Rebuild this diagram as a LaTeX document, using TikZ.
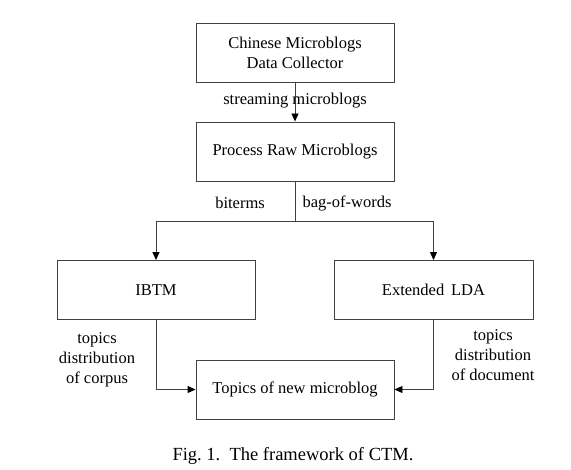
\documentclass[tikz,border=0pt]{standalone}
\usepackage{fontspec}
\setmainfont{Liberation Serif}
\usetikzlibrary{arrows.meta}
\begin{document}
\begin{tikzpicture}[x=1pt,y=-1pt,
  box/.style={draw=black!75,line width=0.9pt,minimum width=198pt,minimum height=59pt,align=center,inner sep=0pt,font=\fontsize{16.5}{20}\selectfont},
  lab/.style={align=center,inner sep=0pt,font=\fontsize{16.5}{20}\selectfont},
  conn/.style={draw=black!75,line width=0.9pt},
  arr/.style={conn,-{Triangle[length=8pt,width=7pt,color=black]}}]
\useasboundingbox (0,0) rectangle (571,470);
\node[box] (coll) at (295,52.5) {Chinese Microblogs\\Data Collector};
\node[box] (proc) at (295,151.5) {Process Raw Microblogs};
\node[box] (ibtm) at (156,290) {IBTM};
\node[box,minimum width=199pt] (lda) at (433.5,290) {Extended\, LDA};
\node[box] (new) at (295,389.5) {Topics of new microblog};
\coordinate (split) at (295,221);
\coordinate (rc) at (433,389);
\draw[arr] (coll) -- (proc);
\draw[conn] (proc) -- (split);
\draw[arr] (split) -| (ibtm);
\draw[arr] (split) -| (lda);
\draw[arr] (ibtm) |- (new.west);
\draw[arr] (lda.south -| rc) |- (new.east);
\node[lab] (l1) at (295,101) {streaming microblogs};
\node[lab] (l2) at (240,203) {biterms};
\node[lab] (l3) at (347,203) {bag-of-words};
\node[lab] (l4) at (97,360) {topics\\distribution\\of corpus};
\node[lab] (l5) at (493,355) {topics\\distribution\\of document};
\node[lab,font=\fontsize{18.5}{22}\selectfont] (cap) at (293,456) {Fig.~1.\ \ The framework of CTM.};
\end{tikzpicture}
\end{document}
